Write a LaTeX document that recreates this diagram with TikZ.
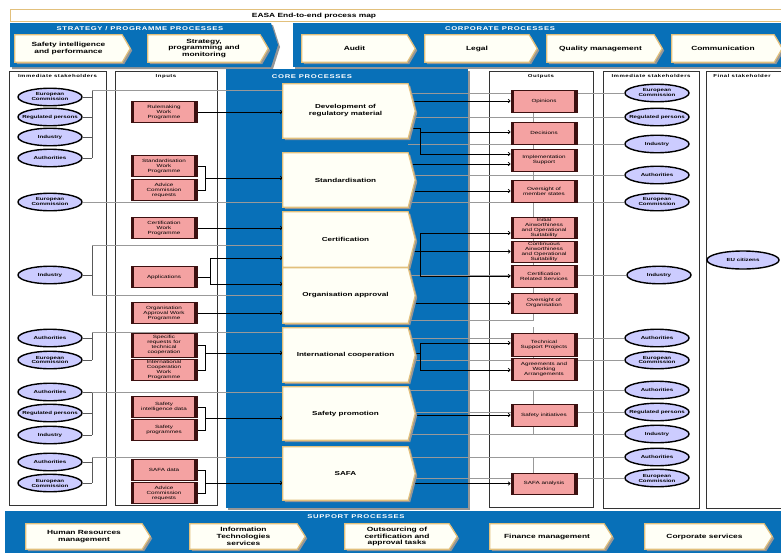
\documentclass[tikz,border=0pt]{standalone}
\usepackage{fontspec}
\setmainfont{Liberation Sans}[FakeStretch=1.4]
\newfontfamily\hdrfont{Liberation Sans}[FakeStretch=1.4,LetterSpace=12]
\usetikzlibrary{arrows.meta,shapes.geometric}
\pgfdeclarelayer{bg}\pgfdeclarelayer{lines}\pgfdeclarelayer{shapes}
\pgfsetlayers{bg,lines,shapes,main}
\definecolor{easablue}{RGB}{8,112,184}
\definecolor{pinkfill}{RGB}{244,162,162}
\definecolor{barcol}{RGB}{60,16,16}
\definecolor{lavfill}{RGB}{204,204,255}
\definecolor{tanline}{RGB}{226,192,124}
\definecolor{creamfill}{RGB}{255,255,246}
\definecolor{shadowgrey}{RGB}{150,150,150}
\tikzset{
  bandtitle/.style={text=white,font=\hdrfont\fontsize{5.5}{6}\selectfont\bfseries,inner sep=0pt},
  chevtext/.style={font=\fontsize{6}{6.8}\selectfont\bfseries,align=center,inner sep=0pt},
  coretext/.style={font=\fontsize{5.8}{7}\selectfont\bfseries,align=center,inner sep=0pt},
  chevframe/.style={draw=tanline,line width=1.2pt,fill=creamfill},
  colframe/.style={draw=black!80,line width=0.7pt,fill=white},
  colhead/.style={font=\hdrfont\fontsize{4.3}{5}\selectfont\bfseries,inner sep=0pt},
  stake/.style={ellipse,draw=black,line width=1.4pt,fill=lavfill,minimum width=64pt,minimum height=17.5pt,inner sep=0pt,align=center,font=\fontsize{4.4}{5}\selectfont\bfseries},
  io/.style={rectangle,draw=barcol,line width=0.6pt,fill=pinkfill,minimum width=66pt,minimum height=21pt,inner sep=0pt,align=center,font=\fontsize{4.5}{5}\selectfont,
    path picture={\fill[barcol] (path picture bounding box.north west) rectangle ([xshift=2.8pt]path picture bounding box.south west);
                  \fill[barcol] ([xshift=-2.8pt]path picture bounding box.north east) rectangle (path picture bounding box.south east);}},
  greyline/.style={draw=black!40,line width=0.5pt},
  linkline/.style={draw=black!65,line width=0.5pt},
  flow/.style={draw=black,line width=0.7pt,-{Straight Barb[length=2pt,width=3.5pt]}},
  plainflow/.style={draw=black,line width=0.7pt},
}
\newcommand\shapebox[8]{%
  \node[#1,minimum width=#5pt,minimum height=#6pt] (#2) at (#3,#4) {#8};
  \begin{pgfonlayer}{shapes}
    \fill[shadowgrey] ([shift={(2pt,-2pt)}]#2.north west) -- ([shift={(2pt,-2pt)}]#2.north east) -- ([shift={(#7pt+2pt,-2pt)}]#2.east) -- ([shift={(2pt,-2pt)}]#2.south east) -- ([shift={(2pt,-2pt)}]#2.south west) -- cycle;
    \draw[chevframe] (#2.north west) -- (#2.north east) -- ([xshift=#7pt]#2.east) -- (#2.south east) -- (#2.south west) -- cycle;
  \end{pgfonlayer}}
\newcommand\ecname{European\\Commission}
\newcommand\rpname{\makebox[30pt]{Regulated persons}}
\begin{document}
\begin{tikzpicture}[x=1pt,y=-1pt]
\useasboundingbox (0,0) rectangle (781,552);
\begin{pgfonlayer}{bg}
  \fill[white] (0,0) rectangle (781,552);
  \draw[draw=tanline,line width=0.8pt,fill=white] (10,9.5) rectangle (790,21);
  \fill[shadowgrey] (12,25) -- (273,25) -- (280,47) -- (273,69) -- (12,69) -- cycle;
  \fill[easablue] (10,23) -- (271,23) -- (278,45) -- (271,67) -- (10,67) -- cycle;
  \fill[shadowgrey] (295,25) rectangle (790,69);
  \fill[easablue] (293,23) rectangle (790,67);
  \draw[colframe] (9,71) rectangle (106,505);
  \draw[colframe] (115,71) rectangle (217,505);
  \fill[shadowgrey] (228,71) rectangle (470,510);
  \fill[easablue] (226,69) rectangle (468,508);
  \draw[colframe] (489,71) rectangle (593,507);
  \draw[colframe] (603,71) rectangle (699,508);
  \draw[colframe] (706,71) rectangle (790,508);
  \fill[easablue] (5,511) rectangle (790,556);
\end{pgfonlayer}

% titles
\node[font=\fontsize{6}{7}\selectfont\bfseries,inner sep=0pt] (title) at (314,15.5) {EASA End-to-end process map};
\node[bandtitle] (stitle) at (140,29) {STRATEGY / PROGRAMME PROCESSES};
\node[bandtitle] (ctitle) at (500,29) {CORPORATE PROCESSES};
\node[bandtitle] (coretitle) at (312,77) {CORE PROCESSES};
\node[bandtitle] (suptitle) at (356,516.5) {SUPPORT PROCESSES};
\node[colhead] (h1) at (57.5,76) {Immediate stakeholders};
\node[colhead] (h2) at (166,76) {Inputs};
\node[colhead] (h3) at (541,76) {Outputs};
\node[colhead] (h4) at (651,76) {Immediate stakeholders};
\node[colhead] (h5) at (742,76) {Final stakeholder};

% top chevrons
\shapebox{chevtext}{sip}{68.5}{48.5}{107}{27}{8}{Safety intelligence\\and performance}
\shapebox{chevtext}{spm}{204}{48.5}{112}{27}{8}{Strategy,\\programming and\\monitoring}
\shapebox{chevtext}{audit}{354.5}{48.5}{105}{27}{8}{Audit}
\shapebox{chevtext}{legal}{477}{48.5}{104}{27}{8}{Legal}
\shapebox{chevtext}{qm}{600.5}{48.5}{107}{27}{8}{Quality management}
\shapebox{chevtext}{comm}{723}{48.5}{102}{27}{8}{Communication}

% bottom chevrons
\shapebox{chevtext}{hr}{84}{536.5}{116}{25}{8}{Human Resources\\management}
\shapebox{chevtext}{it}{243.5}{536.5}{107}{25}{8}{Information\\Technologies\\services}
\shapebox{chevtext}{outs}{397}{536.5}{104}{25}{8}{Outsourcing of\\certification and\\approval tasks}
\shapebox{chevtext}{fin}{547}{536.5}{114}{25}{8}{Finance management}
\shapebox{chevtext}{corp}{704.5}{536.5}{119}{25}{8}{Corporate services}

% core processes
\shapebox{coretext}{dev}{345.5}{111}{125}{54}{7}{Development of\\regulatory material}
\shapebox{coretext}{std}{345.5}{180}{125}{54}{7}{Standardisation}
\shapebox{coretext}{cert}{345.5}{239.5}{125}{55}{7}{Certification}
\shapebox{coretext}{oa}{345.5}{295.5}{125}{55}{7}{Organisation approval}
\shapebox{coretext}{intl}{345.5}{355}{125}{54}{7}{International cooperation}
\shapebox{coretext}{sprom}{345.5}{413.5}{125}{53}{7}{Safety promotion}
\shapebox{coretext}{safa}{345.5}{473.5}{125}{53}{7}{SAFA}

% left stakeholders
\node[stake] (l1) at (50,97) {\ecname};
\node[stake] (l2) at (50,117) {\rpname};
\node[stake] (l3) at (50,137) {Industry};
\node[stake] (l4) at (50,158) {Authorities};
\node[stake] (l5) at (50,202) {\ecname};
\node[stake] (l6) at (50,275) {Industry};
\node[stake] (l7) at (50,338) {Authorities};
\node[stake] (l8) at (50,360) {\ecname};
\node[stake] (l9) at (50,392) {Authorities};
\node[stake] (l10) at (50,413) {\rpname};
\node[stake] (l11) at (50,435) {Industry};
\node[stake] (l12) at (50,462) {Authorities};
\node[stake] (l13) at (50,483) {\ecname};

% right stakeholders
\node[stake] (r1) at (657,93) {\ecname};
\node[stake] (r2) at (657,117) {\rpname};
\node[stake] (r3) at (657,144) {Industry};
\node[stake] (r4) at (657,175) {Authorities};
\node[stake] (r5) at (657,202) {\ecname};
\node[stake] (r6) at (659,275) {Industry};
\node[stake] (r7) at (657,338) {Authorities};
\node[stake] (r8) at (657,360) {\ecname};
\node[stake] (r9) at (657,390) {Authorities};
\node[stake] (r10) at (657,412) {\rpname};
\node[stake] (r11) at (657,434) {Industry};
\node[stake] (r12) at (657,457) {Authorities};
\node[stake] (r13) at (657,478) {\ecname};
\node[stake,minimum width=72pt,minimum height=18pt] (eu) at (743,260) {EU citizens};

% inputs
\node[io] (rwp) at (164,112) {Rulemaking\\Work\\Programme};
\node[io] (swp) at (164,166) {Standardisation\\Work\\Programme};
\node[io] (acr1) at (164,190) {Advice\\Commission\\requests};
\node[io] (cwp) at (164,228) {Certification\\Work\\Programme};
\node[io] (app) at (164,277) {Applications};
\node[io] (oawp) at (164,313) {Organisation\\Approval Work\\Programme};
\node[io,minimum height=24pt] (srtc) at (164,345) {Specific\\requests for\\technical\\cooperation};
\node[io] (icwp) at (164,370) {International\\Cooperation\\Work\\Programme};
\node[io] (sid) at (164,407) {Safety\\intelligence data};
\node[io] (sp) at (164,430) {Safety\\programmes};
\node[io] (safad) at (164,470) {SAFA data};
\node[io] (acr2) at (164,493) {Advice\\Commission\\requests};

% outputs
\node[io,minimum height=22pt] (op) at (544,101) {Opinions};
\node[io,minimum height=22pt] (dec) at (544,133) {Decisions};
\node[io,minimum height=22pt] (impl) at (544,160) {Implementation\\Support};
\node[io,minimum height=22pt] (oms) at (544,191) {Oversight of\\member states};
\node[io] (iaos) at (544,228) {Initial\\Airworthiness\\and Operational\\Suitability};
\node[io] (caos) at (544,251.5) {Continuous\\Airworthiness\\and Operational\\Suitability};
\node[io,minimum height=22pt] (crs) at (544,276) {Certification\\Related Services};
\node[io,minimum height=20pt] (oo) at (544,303) {Oversight of\\Organisation};
\node[io,minimum height=23pt] (tsp) at (544,345) {Technical\\Support Projects};
\node[io,minimum height=22pt] (awa) at (544,369) {Agreements and\\Working\\Arrangements};
\node[io,minimum height=22pt] (si) at (544,415) {Safety initiatives};
\node[io] (safaa) at (544,483.5) {SAFA analysis};

% bracket and junction points
\coordinate (b1t) at (92,90);   \coordinate (b1b) at (92,158);
\coordinate (b3t) at (92,245);  \coordinate (b3b) at (92,295);
\coordinate (b4t) at (92,332);  \coordinate (b4b) at (92,360);
\coordinate (b5t) at (92,392);  \coordinate (b5b) at (92,435);
\coordinate (b6t) at (92,457);  \coordinate (b6b) at (92,483);
\coordinate (k1) at (205,178);
\coordinate (k2t) at (210,258); \coordinate (k2b) at (210,284);
\coordinate (k3) at (205,353);
\coordinate (k4) at (205,418);
\coordinate (k5) at (205,483);
\coordinate (j1) at (420,128);  \coordinate (j1a) at (420,132); \coordinate (j1b) at (420,154);
\coordinate (j2) at (420,164);
\coordinate (j3t) at (420,233); \coordinate (j3b) at (420,276);
\coordinate (j4) at (420,353);  \coordinate (j4t) at (420,343); \coordinate (j4b) at (420,370);
\coordinate (g2) at (533,320);

\begin{pgfonlayer}{lines}
  % left stakeholders to core
  \foreach \n in {l1,l2,l3,l4} \draw[linkline] (\n.east) -- (\n.east -| b1t);
  \draw[linkline] (b1t) -- (b1b);
  \draw[greyline] (b1t) -- (b1t -| dev.west);
  \draw[greyline] (l5.east) -- (l5.east -| std.west);
  \draw[linkline] (l6.east) -- (l6.east -| b3t);
  \draw[linkline] (b3t) -- (b3b);
  \draw[greyline] (b3t) -- (b3t -| cert.west);
  \draw[greyline] (b3b) -- (b3b -| oa.west);
  \foreach \n in {l7,l8} \draw[linkline] (\n.east) -- (\n.east -| b4t);
  \draw[linkline] (b4t) -- (b4b);
  \draw[greyline] (b4t) -- (b4t -| intl.west);
  \foreach \n in {l9,l10,l11} \draw[linkline] (\n.east) -- (\n.east -| b5t);
  \draw[linkline] (b5t) -- (b5b);
  \draw[greyline] (b5t) -- (b5t -| sprom.west);
  \foreach \n in {l12,l13} \draw[linkline] (\n.east) -- (\n.east -| b6t);
  \draw[linkline] (b6t) -- (b6b);
  \draw[greyline] (b6t) -- (b6t -| safa.west);
  % core to right stakeholders
  \foreach \n in {r1,r2,r3,r4,r5,r6,r7,r8,r9,r10,r11,r12,r13}
    \draw[greyline] (\n.west -| dev.east) -- (\n.west);
  % output group links
  \draw[greyline] ([xshift=-11pt]op.south) -- ([xshift=-11pt]dec.north);
  \draw[greyline] ([xshift=-11pt]dec.south) -- ([xshift=-11pt]impl.north);
  \draw[greyline] ([xshift=-11pt]impl.south) -- ([xshift=-11pt]oms.north);
  \draw[greyline] ([xshift=-11pt]iaos.north) -- ([xshift=-11pt]r5.west -| iaos.north);
  \draw[greyline] ([xshift=-11pt]iaos.south) -- ([xshift=-11pt]caos.north);
  \draw[greyline] ([xshift=-11pt]caos.south) -- ([xshift=-11pt]crs.north);
  \draw[greyline] ([xshift=-11pt]crs.south) -- ([xshift=-11pt]oo.north);
  \draw[greyline] ([xshift=-11pt]oo.south) -- (g2) -- (g2 -| oa.east);
  \draw[greyline] ([xshift=-11pt]tsp.north) -- ++(0,-6);
  \draw[greyline] ([xshift=-11pt]tsp.south) -- ([xshift=-11pt]awa.north);
  \draw[greyline] ([xshift=-11pt]si.north) -- ++(0,-14);
  \draw[greyline] ([xshift=-11pt]si.south) -- ++(0,8);
  \draw[greyline] ([xshift=-11pt]safaa.north) -- ++(0,-16);
  % inputs to core
  \draw[flow] (rwp.east) -- (rwp.east -| dev.west);
  \draw[plainflow] (swp.east) -- (swp.east -| k1) -- (acr1.east -| k1) -- (acr1.east);
  \draw[flow] (k1) -- (k1 -| std.west);
  \draw[flow] (cwp.east) -- (cwp.east -| cert.west);
  \draw[plainflow] (app.east) -- (app.east -| k2t);
  \draw[plainflow] (k2t) -- (k2b);
  \draw[flow] (k2t) -- (k2t -| cert.west);
  \draw[flow] (k2b) -- (k2b -| oa.west);
  \draw[flow] (oawp.east) -- (oawp.east -| oa.west);
  \draw[plainflow] (srtc.east) -- (srtc.east -| k3) -- (icwp.east -| k3) -- (icwp.east);
  \draw[flow] (k3) -- (k3 -| intl.west);
  \draw[plainflow] (sid.east) -- (sid.east -| k4) -- (sp.east -| k4) -- (sp.east);
  \draw[flow] (k4) -- (k4 -| sprom.west);
  \draw[plainflow] (safad.east) -- (safad.east -| k5) -- (acr2.east -| k5) -- (acr2.east);
  \draw[flow] (k5) -- (k5 -| safa.west);
  % core to outputs
  \draw[flow] (op.west -| dev.east) -- (op.west);
  \draw[plainflow] (j1 -| dev.east) -- (j1) -- (j1b);
  \draw[flow] (j1a) -- (j1a -| dec.west);
  \draw[flow] (j1b) -- (j1b -| impl.west);
  \draw[flow] (j2 -| std.east) -- (j2 -| impl.west);
  \draw[flow] (oms.west -| std.east) -- (oms.west);
  \draw[plainflow] (j3t) -- (j3b);
  \draw[flow] (caos.west -| cert.east) -- (caos.west);
  \draw[flow] (j3t) -- (j3t -| iaos.west);
  \draw[flow] (j3b) -- (j3b -| crs.west);
  \draw[flow] (oo.west -| oa.east) -- (oo.west);
  \draw[plainflow] (j4 -| intl.east) -- (j4);
  \draw[plainflow] (j4t) -- (j4b);
  \draw[flow] (j4t) -- (j4t -| tsp.west);
  \draw[flow] (j4b) -- (j4b -| awa.west);
  \draw[flow] (si.west -| sprom.east) -- (si.west);
  \draw[flow] (safaa.west -| safa.east) -- (safaa.west);
\end{pgfonlayer}
\end{tikzpicture}
\end{document}
